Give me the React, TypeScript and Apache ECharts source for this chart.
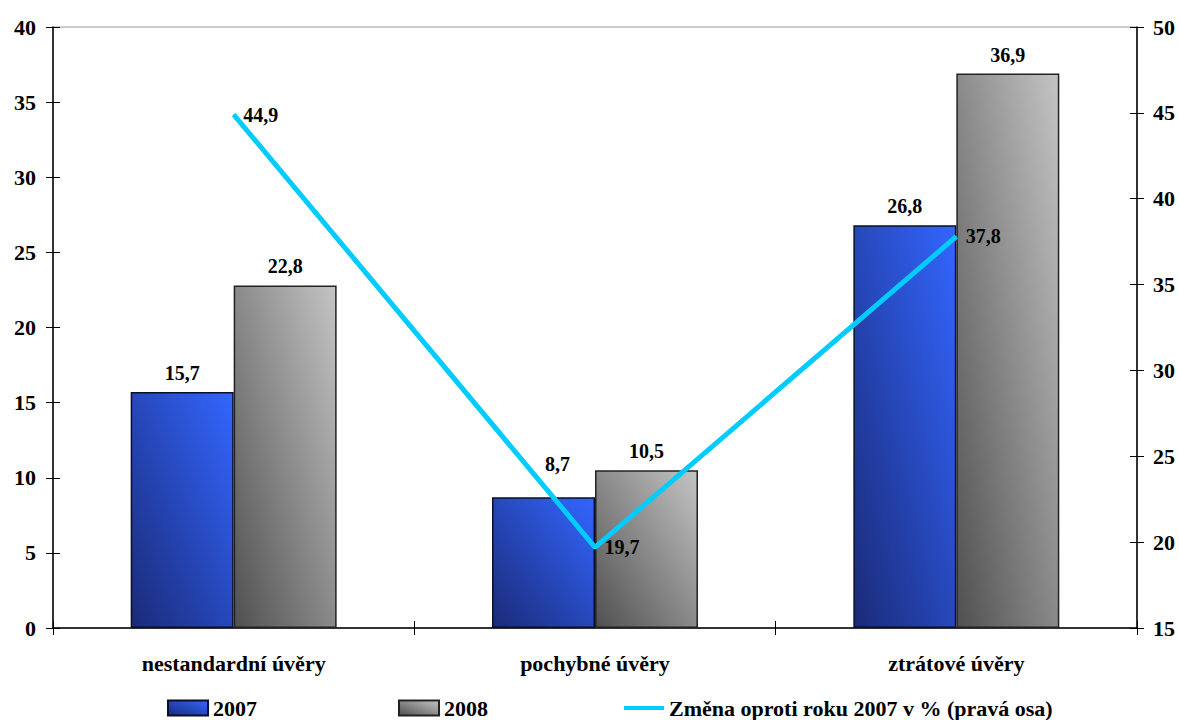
import React, { useEffect, useRef } from "react";
import * as echarts from "echarts";

const categories = ["nestandardní úvěry", "pochybné úvěry", "ztrátové úvěry"];
const values2007 = [15.7, 8.7, 26.8];
const values2008 = [22.8, 10.5, 36.9];
const changePct = [44.9, 19.7, 37.8];
const seriesNames = ["2007", "2008", "Změna oproti roku 2007 v % (pravá osa)"];

const FONT = "Liberation Serif";
const fmt = (v: number) => v.toFixed(1).replace(".", ",");

export default function App() {
  const ref = useRef<HTMLDivElement>(null);

  useEffect(() => {
    if (!ref.current) return;
    const chart = echarts.init(ref.current, undefined, { renderer: "svg" });

    const blueFill = new echarts.graphic.LinearGradient(0, 1, 1, 0, [
      { offset: 0, color: "#1a2a78" },
      { offset: 1, color: "#3366ff" },
    ]);
    const grayFill = new echarts.graphic.LinearGradient(0, 1, 1, 0, [
      { offset: 0, color: "#505050" },
      { offset: 1, color: "#c4c4c4" },
    ]);

    const tickLabel = { color: "#000", fontFamily: FONT, fontWeight: "bold" as const, fontSize: 22 };
    const valueLabel = {
      show: true,
      color: "#000",
      fontFamily: FONT,
      fontWeight: "bold" as const,
      fontSize: 20,
      formatter: (p: any) => fmt(p.value),
    };
    const legendText = {
      color: "#000",
      fontFamily: FONT,
      fontWeight: "bold" as const,
      fontSize: 22,
      lineHeight: 22,
    };
    const legendBase = {
      top: 697,
      padding: 0,
      itemGap: 4,
      textStyle: legendText,
      selectedMode: false,
    };

    chart.setOption({
      animation: false,
      backgroundColor: "#fff",
      grid: {
        left: 53,
        right: 42,
        top: 27,
        bottom: 92,
        show: true,
        borderColor: "#999",
        borderWidth: 1,
      },
      legend: [
        {
          ...legendBase,
          data: [{ name: seriesNames[0], icon: "rect" }],
          left: 167,
          itemWidth: 40,
          itemHeight: 15,
        },
        {
          ...legendBase,
          data: [{ name: seriesNames[1], icon: "rect" }],
          left: 398,
          itemWidth: 40,
          itemHeight: 15,
        },
        {
          ...legendBase,
          data: [{ name: seriesNames[2], icon: "rect" }],
          left: 624,
          itemWidth: 40,
          itemHeight: 4,
        },
      ],
      xAxis: [
        {
          type: "category",
          data: categories,
          position: "bottom",
          axisLine: { lineStyle: { color: "#000", width: 1.5 } },
          axisTick: { show: true, length: 7, inside: false, lineStyle: { color: "#000" } },
          axisLabel: { ...tickLabel, fontSize: 22, margin: 24 },
        },
        {
          type: "category",
          data: categories,
          position: "bottom",
          axisLine: { show: false },
          axisTick: { show: true, length: 7, inside: true, lineStyle: { color: "#000" } },
          axisLabel: { show: false },
        },
      ],
      yAxis: [
        {
          type: "value",
          min: 0,
          max: 40,
          interval: 5,
          position: "left",
          splitLine: { show: false },
          axisLine: { show: true, lineStyle: { color: "#000", width: 1.5 } },
          axisTick: { show: true, length: 7, lineStyle: { color: "#000" } },
          axisLabel: { ...tickLabel, margin: 17 },
        },
        {
          type: "value",
          min: 15,
          max: 50,
          interval: 5,
          position: "right",
          splitLine: { show: false },
          axisLine: { show: true, lineStyle: { color: "#000", width: 1.5 } },
          axisTick: { show: true, length: 7, lineStyle: { color: "#000" } },
          axisLabel: { ...tickLabel, margin: 16 },
        },
        {
          type: "value",
          min: 0,
          max: 40,
          interval: 5,
          position: "left",
          splitLine: { show: false },
          axisLine: { show: false },
          axisTick: { show: true, inside: true, length: 7, lineStyle: { color: "#000" } },
          axisLabel: { show: false },
        },
        {
          type: "value",
          min: 15,
          max: 50,
          interval: 5,
          position: "right",
          splitLine: { show: false },
          axisLine: { show: false },
          axisTick: { show: true, inside: true, length: 7, lineStyle: { color: "#000" } },
          axisLabel: { show: false },
        },
      ],
      series: [
        {
          name: seriesNames[0],
          type: "bar",
          data: values2007.map((v, i) =>
            i === 1 ? { value: v, label: { offset: [14, -14] } } : { value: v }
          ),
          xAxisIndex: 0,
          yAxisIndex: 0,
          barGap: "0%",
          barCategoryGap: "43%",
          itemStyle: { color: blueFill, borderColor: "#0a0f2a", borderWidth: 1.5 },
          label: { ...valueLabel, position: "top", distance: 9 },
        },
        {
          name: seriesNames[1],
          type: "bar",
          data: values2008,
          xAxisIndex: 0,
          yAxisIndex: 0,
          barGap: "0%",
          barCategoryGap: "43%",
          itemStyle: { color: grayFill, borderColor: "#222", borderWidth: 1.5 },
          label: { ...valueLabel, position: "top", distance: 9 },
        },
        {
          name: seriesNames[2],
          type: "line",
          data: changePct,
          xAxisIndex: 0,
          yAxisIndex: 1,
          color: "#00ccff",
          lineStyle: { color: "#00ccff", width: 5 },
          itemStyle: { color: "#00ccff" },
          symbol: "circle",
          showSymbol: true,
          symbolSize: 1,
          label: { ...valueLabel, position: "right", distance: 9 },
          z: 5,
        },
      ],
    });

    return () => chart.dispose();
  }, []);

  return (
    <div
      ref={ref}
      style={{ position: "fixed", left: 0, top: 0, width: 1179, height: 720, background: "#fff" }}
    />
  );
}
